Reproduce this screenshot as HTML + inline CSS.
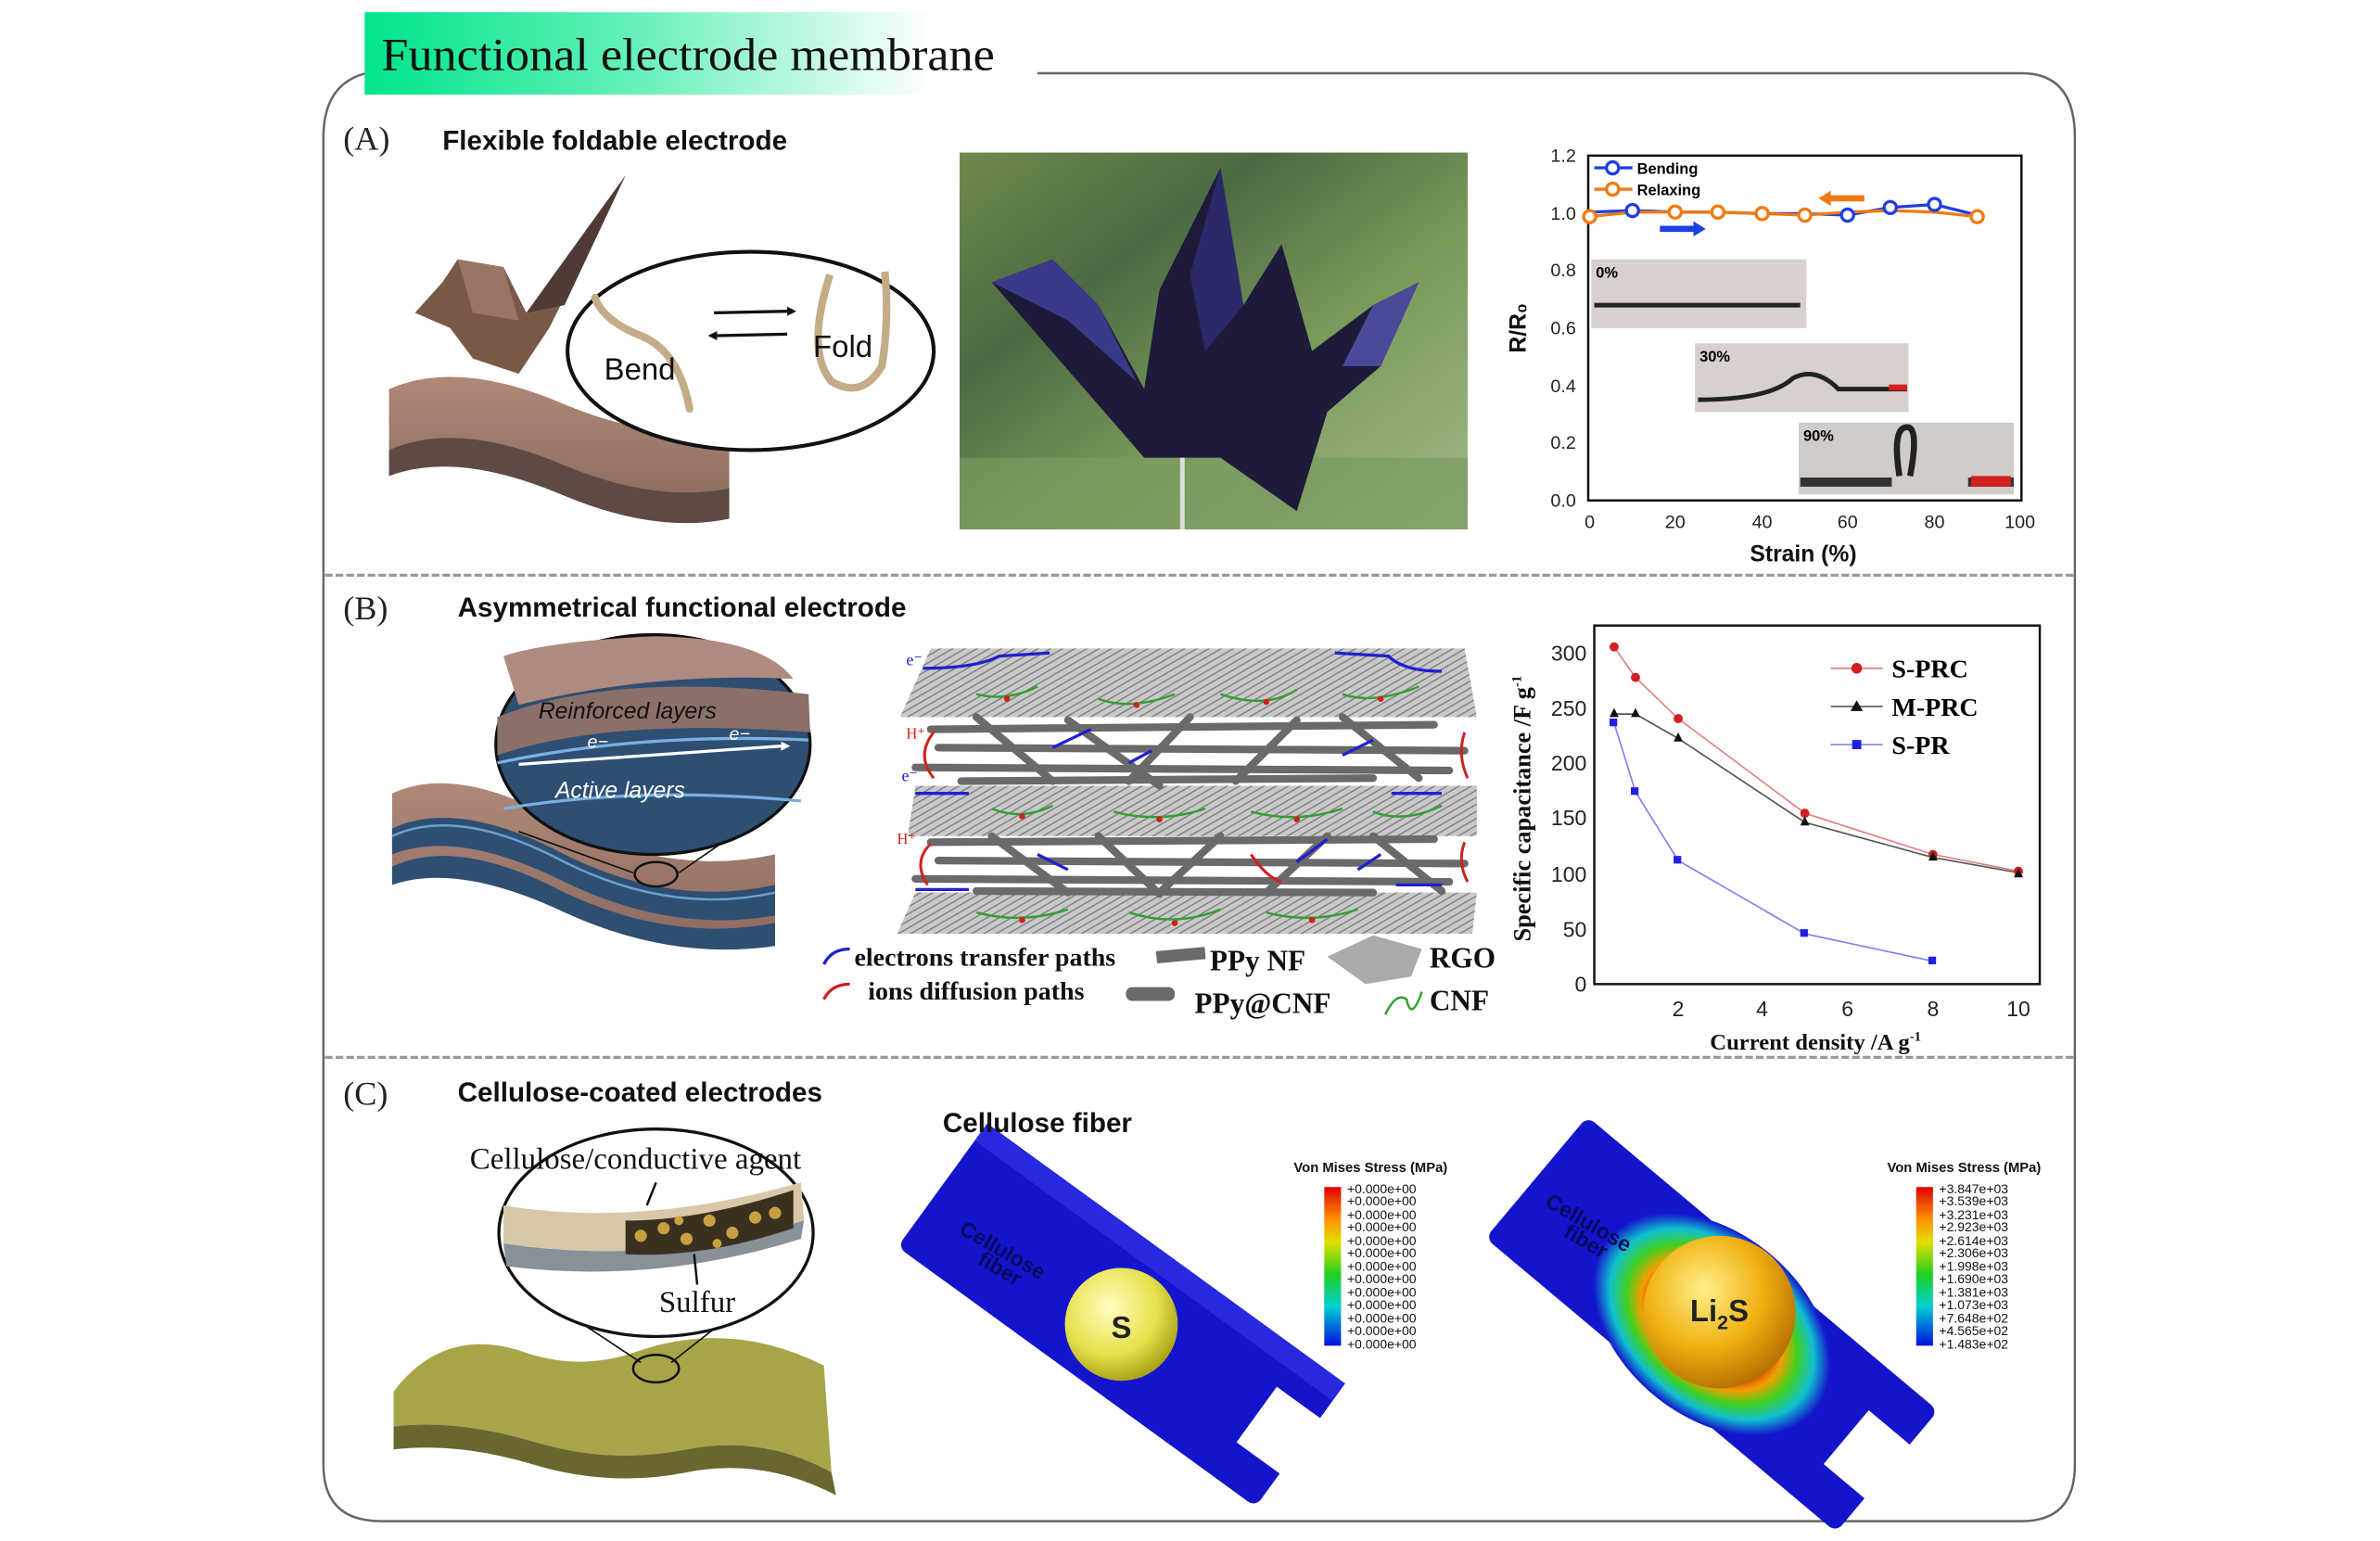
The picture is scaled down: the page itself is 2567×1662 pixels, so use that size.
<!DOCTYPE html>
<html><head><meta charset="utf-8"><style>
html,body{margin:0;padding:0;background:#fff;}
svg{display:block;}
text{font-family:"Liberation Sans",sans-serif;}
.serif{font-family:"Liberation Serif",serif;}
</style></head><body>
<svg width="2567" height="1662" viewBox="0 0 1560 1010" preserveAspectRatio="none" xmlns="http://www.w3.org/2000/svg">
<defs>
<linearGradient id="gt" x1="0" x2="1" y1="0" y2="0"><stop offset="0" stop-color="#00e58a"/><stop offset="0.45" stop-color="#5ff0b5"/><stop offset="1" stop-color="#fff"/></linearGradient>
<linearGradient id="ph" x1="0" x2="1" y1="0" y2="1"><stop offset="0" stop-color="#6f8a4c"/><stop offset="0.3" stop-color="#4c6a42"/><stop offset="0.6" stop-color="#7a9a5a"/><stop offset="1" stop-color="#a4b98a"/></linearGradient>
<pattern id="hatch" width="4" height="4" patternUnits="userSpaceOnUse" patternTransform="rotate(60)"><rect width="4" height="4" fill="#c8c8c8"/><line x1="0" y1="0" x2="0" y2="4" stroke="#7a7a7a" stroke-width="1.6"/></pattern>
<radialGradient id="sy" cx="0.4" cy="0.35" r="0.7"><stop offset="0" stop-color="#ffffc0"/><stop offset="0.6" stop-color="#e6e04a"/><stop offset="1" stop-color="#a09a10"/></radialGradient>
<radialGradient id="so" cx="0.4" cy="0.35" r="0.7"><stop offset="0" stop-color="#fff08a"/><stop offset="0.55" stop-color="#f0b010"/><stop offset="1" stop-color="#b06a00"/></radialGradient>
<radialGradient id="stress" cx="0.5" cy="0.5" r="0.5"><stop offset="0.45" stop-color="#e01010"/><stop offset="0.6" stop-color="#f0a000"/><stop offset="0.72" stop-color="#40d020"/><stop offset="0.86" stop-color="#10c0d0"/><stop offset="1" stop-color="#1414cc"/></radialGradient>
<linearGradient id="cb" x1="0" x2="0" y1="0" y2="1"><stop offset="0" stop-color="#e00000"/><stop offset="0.2" stop-color="#ff9000"/><stop offset="0.35" stop-color="#e0e000"/><stop offset="0.55" stop-color="#20d020"/><stop offset="0.75" stop-color="#00d0d0"/><stop offset="1" stop-color="#0010e0"/></linearGradient>
<linearGradient id="brown" x1="0" x2="0" y1="0" y2="1"><stop offset="0" stop-color="#b08878"/><stop offset="1" stop-color="#8a6a5e"/></linearGradient>
</defs>

<!-- frame -->
<path d="M680 48 H1325 Q1360 48 1360 90 V960 Q1360 997 1325 997 H250 Q212 997 212 960 V90 Q212 55 240 48" fill="none" stroke="#666" stroke-width="1.5"/>
<rect x="239" y="8" width="372" height="54" fill="url(#gt)"/>
<text x="250" y="46" class="serif" font-size="30" textLength="402" lengthAdjust="spacingAndGlyphs" fill="#111">Functional electrode membrane</text>
<line x1="213" y1="377" x2="1359" y2="377" stroke="#999" stroke-width="2" stroke-dasharray="5,2"/>
<line x1="213" y1="693" x2="1359" y2="693" stroke="#999" stroke-width="2" stroke-dasharray="5,2"/>

<!-- section A -->
<text x="225" y="98" class="serif" font-size="22" fill="#222">(A)</text>
<text x="290" y="98" font-size="18" font-weight="bold" fill="#111">Flexible foldable electrode</text>
<path d="M255 255 Q300 235 370 265 Q430 290 478 280 L478 335 Q430 345 370 320 Q300 290 255 310 Z" fill="url(#brown)"/>
<path d="M255 295 Q300 275 370 305 Q430 330 478 320 L478 340 Q430 350 370 325 Q300 295 255 312 Z" fill="#5e4a44"/>
<polygon points="272,205 290,185 300,170 330,175 345,205 410,115 360,215 340,245 310,235 295,215" fill="#7a5848"/>
<polygon points="300,170 330,175 340,210 310,205" fill="#9a7464"/>
<polygon points="345,205 410,115 370,200" fill="#4f3a34"/>
<ellipse cx="492" cy="230" rx="120" ry="65" fill="#fff" stroke="#111" stroke-width="2.5"/>
<path d="M390 195 Q395 210 420 220 Q445 230 452 268" fill="none" stroke="#c4ac88" stroke-width="5" stroke-linecap="round"/>
<path d="M544 180 Q528 230 545 250 Q565 262 578 240 Q583 210 580 178" fill="none" stroke="#c4ac88" stroke-width="5"/>
<line x1="468" y1="205" x2="516" y2="204" stroke="#111" stroke-width="2"/><polygon points="516,201 522,204 516,207" fill="#111"/>
<line x1="470" y1="220" x2="516" y2="219" stroke="#111" stroke-width="2"/><polygon points="470,217 464,220 470,223" fill="#111"/>
<text x="396" y="249" font-size="20" fill="#111" font-family="Liberation Mono,monospace">Bend</text>
<text x="533" y="234" font-size="20" fill="#111" font-family="Liberation Mono,monospace">Fold</text>

<!-- photo -->
<rect x="629" y="100" width="333" height="247" fill="url(#ph)"/>
<rect x="629" y="300" width="333" height="47" fill="#7a9a60" opacity="0.7"/>
<polygon points="650,185 690,170 720,200 750,255 760,190 800,110 815,200 840,160 860,230 900,200 930,185 905,240 870,270 850,335 800,300 750,300" fill="#1e1a3a"/>
<polygon points="650,185 690,170 720,200 745,250 700,210" fill="#3a3a8a"/>
<polygon points="800,110 815,200 790,230 780,180" fill="#2a2a6a"/>
<polygon points="900,200 930,185 905,240 880,240" fill="#4a4a9a"/>
<line x1="775" y1="300" x2="775" y2="347" stroke="#ddd" stroke-width="3"/>

<!-- chart A -->
<rect x="1041" y="102" width="284" height="226" fill="none" stroke="#111" stroke-width="1.5"/>
<g font-size="12" fill="#222" text-anchor="end">
<text x="1033" y="106">1.2</text><text x="1033" y="144">1.0</text><text x="1033" y="181">0.8</text><text x="1033" y="219">0.6</text><text x="1033" y="257">0.4</text><text x="1033" y="294">0.2</text><text x="1033" y="332">0.0</text></g>
<g font-size="12" fill="#222" text-anchor="middle">
<text x="1042" y="346">0</text><text x="1098" y="346">20</text><text x="1155" y="346">40</text><text x="1211" y="346">60</text><text x="1268" y="346">80</text><text x="1324" y="346">100</text></g>
<text x="1182" y="368" font-size="15" font-weight="bold" text-anchor="middle" fill="#111">Strain (%)</text>
<text transform="translate(1000 215) rotate(-90)" font-size="15" font-weight="bold" text-anchor="middle" fill="#111">R/R₀</text>
<polyline points="1042,139 1070,138 1098,139 1126,139 1155,140 1183,140 1211,141 1239,136 1268,134 1296,141" fill="none" stroke="#1f3fe0" stroke-width="2"/>
<polyline points="1042,142 1070,139 1098,139 1126,139 1155,140 1183,141 1211,139 1239,138 1268,139 1296,142" fill="none" stroke="#f07a10" stroke-width="2"/>
<g fill="#fff" stroke="#1f3fe0" stroke-width="2"><circle cx="1070" cy="138" r="4"/><circle cx="1211" cy="141" r="4"/><circle cx="1239" cy="136" r="4"/><circle cx="1268" cy="134" r="4"/></g>
<g fill="#fff" stroke="#f07a10" stroke-width="2"><circle cx="1042" cy="142" r="4"/><circle cx="1098" cy="139" r="4"/><circle cx="1126" cy="139" r="4"/><circle cx="1155" cy="140" r="4"/><circle cx="1183" cy="141" r="4"/><circle cx="1296" cy="142" r="4"/></g>
<line x1="1045" y1="110" x2="1070" y2="110" stroke="#1f3fe0" stroke-width="2"/><circle cx="1057" cy="110" r="4" fill="#fff" stroke="#1f3fe0" stroke-width="2"/><text x="1073" y="114" font-size="10" font-weight="bold">Bending</text>
<line x1="1045" y1="124" x2="1070" y2="124" stroke="#f07a10" stroke-width="2"/><circle cx="1057" cy="124" r="4" fill="#fff" stroke="#f07a10" stroke-width="2"/><text x="1073" y="128" font-size="10" font-weight="bold">Relaxing</text>
<polygon points="1088,148 1110,148 1110,145 1118,150 1110,155 1110,152 1088,152" fill="#1f3fe0"/>
<polygon points="1222,128 1200,128 1200,125 1192,130 1200,135 1200,132 1222,132" fill="#f07a10"/>
<rect x="1043" y="170" width="141" height="45" fill="#d8d0cc"/><text x="1046" y="182" font-size="10" font-weight="bold">0%</text><path d="M1045 200 H1180" stroke="#222" stroke-width="3"/>
<rect x="1111" y="225" width="140" height="45" fill="#d8d0cc"/><text x="1114" y="237" font-size="10" font-weight="bold">30%</text><path d="M1113 262 Q1160 262 1175 248 Q1190 240 1205 255 H1250" fill="none" stroke="#222" stroke-width="3"/><rect x="1238" y="252" width="12" height="4" fill="#d02020"/>
<rect x="1179" y="277" width="141" height="47" fill="#d0ccc8"/><text x="1182" y="289" font-size="10" font-weight="bold">90%</text><path d="M1180 316 H1240 M1290 316 H1320" stroke="#333" stroke-width="6"/><path d="M1245 312 Q1240 280 1250 280 Q1258 280 1252 312" fill="none" stroke="#222" stroke-width="4"/><rect x="1292" y="312" width="26" height="7" fill="#d02020"/>

<!-- section B -->
<text x="225" y="406" class="serif" font-size="22" fill="#222">(B)</text>
<text x="300" y="404" font-size="18" font-weight="bold" fill="#111">Asymmetrical functional electrode</text>
<path d="M257 520 Q300 500 370 540 Q440 575 508 560 L508 620 Q440 630 370 595 Q300 560 257 575 Z" fill="url(#brown)"/>
<path d="M257 543 Q300 523 370 560 Q440 595 508 580 L508 600 Q440 612 370 578 Q300 543 257 560 Z" fill="#2e4e72"/>
<path d="M257 568 Q300 548 370 585 Q440 618 508 605 L508 620 Q440 630 370 598 Q300 565 257 580 Z" fill="#2e4e72"/>
<path d="M257 548 Q300 528 370 565 Q440 600 508 585" fill="none" stroke="#6aa0d0" stroke-width="1.5"/>
<line x1="340" y1="545" x2="415" y2="572" stroke="#111"/><line x1="520" y1="520" x2="445" y2="572" stroke="#111"/>
<ellipse cx="430" cy="573" rx="14" ry="8" fill="none" stroke="#111" stroke-width="1.5"/>
<ellipse cx="428" cy="488" rx="103" ry="72" fill="#2e4e72" stroke="#111" stroke-width="2"/>
<path d="M326 470 Q400 440 530 455 L531 480 Q400 470 326 495 Z" fill="#8a7068"/>
<path d="M330 430 Q360 420 430 417 Q500 418 520 445 Q430 440 340 462 Z" fill="#b08a80"/>
<path d="M326 500 Q420 480 530 485" fill="none" stroke="#7ab0e0" stroke-width="2"/>
<path d="M330 530 Q420 515 525 525" fill="none" stroke="#7ab0e0" stroke-width="2"/>
<line x1="340" y1="501" x2="512" y2="489" stroke="#fff" stroke-width="2"/><polygon points="512,486 518,489 512,492" fill="#fff"/>
<text x="353" y="471" font-size="15" font-style="italic" font-family="Liberation Mono,monospace" fill="#111">Reinforced layers</text>
<text x="385" y="490" font-size="12" fill="#fff" font-style="italic">e−</text><text x="478" y="485" font-size="12" fill="#fff" font-style="italic">e−</text>
<text x="364" y="523" font-size="15" font-style="italic" font-family="Liberation Mono,monospace" fill="#fff">Active layers</text>

<!-- B middle diagram -->
<polygon points="610,425 960,425 968,470 590,470" fill="url(#hatch)"/>
<polygon points="600,515 968,515 968,548 595,548" fill="url(#hatch)"/>
<polygon points="600,585 968,585 965,612 588,612" fill="url(#hatch)"/>
<g stroke="#6a6a6a" stroke-width="5" stroke-linecap="round">
<line x1="610" y1="478" x2="940" y2="475"/><line x1="615" y1="490" x2="960" y2="492"/><line x1="600" y1="503" x2="950" y2="505"/><line x1="630" y1="512" x2="900" y2="510"/>
<line x1="640" y1="470" x2="690" y2="512"/><line x1="700" y1="472" x2="760" y2="515"/><line x1="780" y1="470" x2="740" y2="512"/><line x1="850" y1="472" x2="810" y2="512"/><line x1="880" y1="470" x2="930" y2="510"/>
<line x1="610" y1="552" x2="940" y2="550"/><line x1="615" y1="564" x2="960" y2="566"/><line x1="600" y1="576" x2="950" y2="578"/><line x1="640" y1="584" x2="900" y2="585"/>
<line x1="650" y1="548" x2="700" y2="585"/><line x1="720" y1="548" x2="760" y2="586"/><line x1="800" y1="548" x2="760" y2="585"/><line x1="870" y1="548" x2="830" y2="585"/><line x1="900" y1="548" x2="945" y2="584"/>
</g>
<g fill="none" stroke="#2020d0" stroke-width="2">
<path d="M605 438 Q640 438 655 430 L688 428"/><path d="M945 440 Q920 440 910 430 L875 428"/><path d="M600 520 H635"/><path d="M945 520 H912"/><path d="M600 583 H635"/><path d="M945 580 H915"/>
<path d="M690 490 L715 478"/><path d="M740 500 L755 492"/><path d="M880 495 L900 485"/><path d="M680 560 L700 570"/><path d="M850 565 L870 550"/><path d="M890 570 L905 560"/></g>
<g fill="none" stroke="#d02020" stroke-width="1.8">
<path d="M612 480 Q600 495 612 510"/><path d="M960 480 Q955 495 962 510"/><path d="M610 553 Q598 565 608 580"/><path d="M960 552 Q955 565 962 578"/><path d="M820 560 Q830 575 840 578"/></g>
<g fill="none" stroke="#30a030" stroke-width="1.5">
<path d="M640 455 Q660 460 680 450"/><path d="M720 458 Q740 466 770 455"/><path d="M800 455 Q830 465 850 452"/><path d="M880 455 Q900 462 930 450"/>
<path d="M650 530 Q670 538 690 528"/><path d="M730 532 Q760 540 790 530"/><path d="M820 532 Q850 540 880 530"/><path d="M900 532 Q920 540 945 528"/>
<path d="M640 598 Q670 606 700 596"/><path d="M740 598 Q770 608 800 596"/><path d="M830 598 Q860 606 890 596"/></g>
<g fill="#d02020"><circle cx="660" cy="458" r="2"/><circle cx="745" cy="462" r="2"/><circle cx="830" cy="460" r="2"/><circle cx="905" cy="458" r="2"/><circle cx="670" cy="535" r="2"/><circle cx="760" cy="537" r="2"/><circle cx="850" cy="537" r="2"/><circle cx="670" cy="603" r="2"/><circle cx="770" cy="605" r="2"/><circle cx="860" cy="603" r="2"/></g>
<text x="594" y="436" class="serif" font-size="11" fill="#2020d0">e⁻</text><text x="591" y="512" class="serif" font-size="11" fill="#2020d0">e⁻</text>
<text x="594" y="484" class="serif" font-size="10" fill="#d02020">H⁺</text><text x="588" y="553" class="serif" font-size="10" fill="#d02020">H⁺</text>
<path d="M540 632 Q545 622 557 622" fill="none" stroke="#2020d0" stroke-width="2"/><text x="560" y="633" class="serif" font-size="17" font-weight="bold" fill="#111">electrons transfer paths</text>
<path d="M540 655 Q545 645 557 645" fill="none" stroke="#d02020" stroke-width="2"/><text x="569" y="655" class="serif" font-size="17" font-weight="bold" fill="#111">ions diffusion paths</text>
<rect x="758" y="622" width="32" height="8" fill="#6a6a6a" transform="rotate(-5 774 626)"/><text x="793" y="636" class="serif" font-size="19" font-weight="bold" fill="#111">PPy NF</text>
<rect x="738" y="647" width="32" height="9" rx="4" fill="#6a6a6a"/><text x="783" y="664" class="serif" font-size="19" font-weight="bold" fill="#111">PPy@CNF</text>
<polygon points="870,627 900,613 932,622 925,640 895,645" fill="#aaa"/><text x="937" y="634" class="serif" font-size="19" font-weight="bold" fill="#111">RGO</text>
<path d="M908 665 Q915 650 922 655 Q925 670 932 650" fill="none" stroke="#30a030" stroke-width="1.5"/><text x="937" y="662" class="serif" font-size="19" font-weight="bold" fill="#111">CNF</text>

<!-- chart B -->
<rect x="1045" y="410" width="292" height="235" fill="none" stroke="#111" stroke-width="1.5"/>
<g class="serif" font-size="14" fill="#222" text-anchor="end">
<text x="1040" y="433">300</text><text x="1040" y="469">250</text><text x="1040" y="505">200</text><text x="1040" y="541">150</text><text x="1040" y="578">100</text><text x="1040" y="614">50</text><text x="1040" y="650">0</text></g>
<g class="serif" font-size="14" fill="#222" text-anchor="middle">
<text x="1100" y="666">2</text><text x="1155" y="666">4</text><text x="1211" y="666">6</text><text x="1267" y="666">8</text><text x="1323" y="666">10</text></g>
<text x="1190" y="688" class="serif" font-size="15" font-weight="bold" text-anchor="middle" fill="#111">Current density /A g<tspan dy="-6" font-size="9">-1</tspan></text>
<text transform="translate(1003 530) rotate(-90)" class="serif" font-size="16" font-weight="bold" text-anchor="middle" fill="#111">Specific capacitance /F g<tspan dy="-6" font-size="9">-1</tspan></text>
<polyline points="1058,424 1072,444 1100,471 1183,533 1267,560 1323,571" fill="none" stroke="#e08080" stroke-width="1"/>
<polyline points="1058,468 1072,468 1100,484 1183,539 1267,562 1323,572" fill="none" stroke="#555" stroke-width="1"/>
<polyline points="1058,474 1072,519 1100,564 1183,612 1267,630" fill="none" stroke="#8080f0" stroke-width="1"/>
<g fill="#d02020"><circle cx="1058" cy="424" r="3"/><circle cx="1072" cy="444" r="3"/><circle cx="1100" cy="471" r="3"/><circle cx="1183" cy="533" r="3"/><circle cx="1267" cy="560" r="3"/><circle cx="1323" cy="571" r="3"/></g>
<g fill="#111"><polygon points="1058,464 1055,470 1061,470"/><polygon points="1072,464 1069,470 1075,470"/><polygon points="1100,480 1097,486 1103,486"/><polygon points="1183,535 1180,541 1186,541"/><polygon points="1267,558 1264,564 1270,564"/><polygon points="1323,569 1320,575 1326,575"/></g>
<g fill="#2020e0"><rect x="1055" y="471" width="5" height="5"/><rect x="1069" y="516" width="5" height="5"/><rect x="1097" y="561" width="5" height="5"/><rect x="1180" y="609" width="5" height="5"/><rect x="1264" y="627" width="5" height="5"/></g>
<line x1="1200" y1="438" x2="1234" y2="438" stroke="#e08080"/><circle cx="1217" cy="438" r="3.5" fill="#d02020"/><text x="1240" y="444" class="serif" font-size="17" font-weight="bold">S-PRC</text>
<line x1="1200" y1="463" x2="1234" y2="463" stroke="#555"/><polygon points="1217,459 1213,466 1221,466" fill="#111"/><text x="1240" y="469" class="serif" font-size="17" font-weight="bold">M-PRC</text>
<line x1="1200" y1="488" x2="1234" y2="488" stroke="#8080f0"/><rect x="1214" y="485" width="6" height="6" fill="#2020e0"/><text x="1240" y="494" class="serif" font-size="17" font-weight="bold">S-PR</text>

<!-- section C -->
<text x="225" y="724" class="serif" font-size="22" fill="#222">(C)</text>
<text x="300" y="722" font-size="18" font-weight="bold" fill="#111">Cellulose-coated electrodes</text>
<path d="M258 912 Q290 870 340 885 Q380 900 420 885 Q480 865 540 895 L545 965 Q500 940 450 950 Q400 960 350 945 Q300 930 258 935 Z" fill="#a8a44a"/>
<path d="M258 912 L258 935 Q300 930 350 945 Q400 960 450 950 Q500 940 545 965 L548 980 Q500 955 450 965 Q400 975 350 960 Q300 945 258 950 Z" fill="#6a6630"/>
<line x1="340" y1="840" x2="420" y2="893" stroke="#111"/><line x1="520" y1="830" x2="440" y2="893" stroke="#111"/>
<ellipse cx="430" cy="897" rx="15" ry="9" fill="none" stroke="#111" stroke-width="1.5"/>
<ellipse cx="430" cy="808" rx="103" ry="68" fill="#fff" stroke="#111" stroke-width="2"/>
<path d="M330 790 Q420 805 525 775 L527 800 Q430 830 330 815 Z" fill="#d8c8a8"/>
<path d="M330 815 Q430 830 527 800 L525 812 Q430 842 332 830 Z" fill="#889098"/>
<path d="M410 800 Q460 800 520 780 L520 805 Q460 825 410 822 Z" fill="#3a3020"/>
<g fill="#c8a040"><circle cx="420" cy="810" r="4"/><circle cx="435" cy="805" r="4"/><circle cx="450" cy="812" r="4"/><circle cx="465" cy="800" r="4"/><circle cx="480" cy="808" r="4"/><circle cx="495" cy="798" r="4"/><circle cx="508" cy="795" r="4"/><circle cx="445" cy="800" r="3"/><circle cx="470" cy="815" r="3"/></g>
<text x="308" y="766" class="serif" font-size="20" fill="#111">Cellulose/conductive agent</text>
<line x1="430" y1="775" x2="424" y2="790" stroke="#111" stroke-width="1.5"/>
<line x1="457" y1="842" x2="455" y2="822" stroke="#111" stroke-width="1.5"/>
<text x="432" y="860" class="serif" font-size="20" fill="#111">Sulfur</text>

<!-- tube 1 -->
<g transform="rotate(36 735 862)">
<rect x="590" y="812" width="290" height="100" rx="6" fill="#1414cc"/>
<rect x="590" y="812" width="290" height="14" fill="#2828e0"/>
<rect x="845" y="840" width="40" height="45" fill="#fff"/>
</g>
<circle cx="735" cy="868" r="37" fill="url(#sy)"/>
<text x="735" y="877" font-size="20" font-weight="bold" text-anchor="middle" fill="#222">S</text>
<text transform="translate(628 808) rotate(30)" font-size="14" font-weight="bold" fill="#0a0a60">Cellulose</text>
<text transform="translate(640 828) rotate(30)" font-size="14" font-weight="bold" fill="#0a0a60">fiber</text>
<text x="618" y="742" font-size="18" font-weight="bold" fill="#111">Cellulose fiber</text>
<text x="848" y="768" font-size="9" font-weight="bold" fill="#111">Von Mises Stress (MPa)</text>
<rect x="868" y="778" width="11" height="104" fill="url(#cb)"/>
<g font-size="8.5" fill="#111">
<text x="883" y="782">+0.000e+00</text><text x="883" y="790">+0.000e+00</text><text x="883" y="799">+0.000e+00</text><text x="883" y="807">+0.000e+00</text><text x="883" y="816">+0.000e+00</text><text x="883" y="824">+0.000e+00</text><text x="883" y="833">+0.000e+00</text><text x="883" y="841">+0.000e+00</text><text x="883" y="850">+0.000e+00</text><text x="883" y="858">+0.000e+00</text><text x="883" y="867">+0.000e+00</text><text x="883" y="875">+0.000e+00</text><text x="883" y="884">+0.000e+00</text></g>

<!-- tube 2 -->
<g transform="rotate(40 1122 868)">
<rect x="972" y="816" width="300" height="104" rx="6" fill="#1414cc"/>
<ellipse cx="1122" cy="868" rx="88" ry="60" fill="url(#stress)"/>
<rect x="1237" y="845" width="40" height="46" fill="#fff"/>
</g>
<circle cx="1127" cy="860" r="50" fill="url(#so)"/>
<text x="1127" y="866" font-size="20" font-weight="bold" text-anchor="middle" fill="#222">Li<tspan font-size="13" dy="5">2</tspan><tspan dy="-5">S</tspan></text>
<text transform="translate(1012 790) rotate(30)" font-size="14" font-weight="bold" fill="#0a0a60">Cellulose</text>
<text transform="translate(1024 810) rotate(30)" font-size="14" font-weight="bold" fill="#0a0a60">fiber</text>
<text x="1237" y="768" font-size="9" font-weight="bold" fill="#111">Von Mises Stress (MPa)</text>
<rect x="1256" y="778" width="11" height="104" fill="url(#cb)"/>
<g font-size="8.5" fill="#111">
<text x="1271" y="782">+3.847e+03</text><text x="1271" y="790">+3.539e+03</text><text x="1271" y="799">+3.231e+03</text><text x="1271" y="807">+2.923e+03</text><text x="1271" y="816">+2.614e+03</text><text x="1271" y="824">+2.306e+03</text><text x="1271" y="833">+1.998e+03</text><text x="1271" y="841">+1.690e+03</text><text x="1271" y="850">+1.381e+03</text><text x="1271" y="858">+1.073e+03</text><text x="1271" y="867">+7.648e+02</text><text x="1271" y="875">+4.565e+02</text><text x="1271" y="884">+1.483e+02</text></g>
</svg>
</body></html>
